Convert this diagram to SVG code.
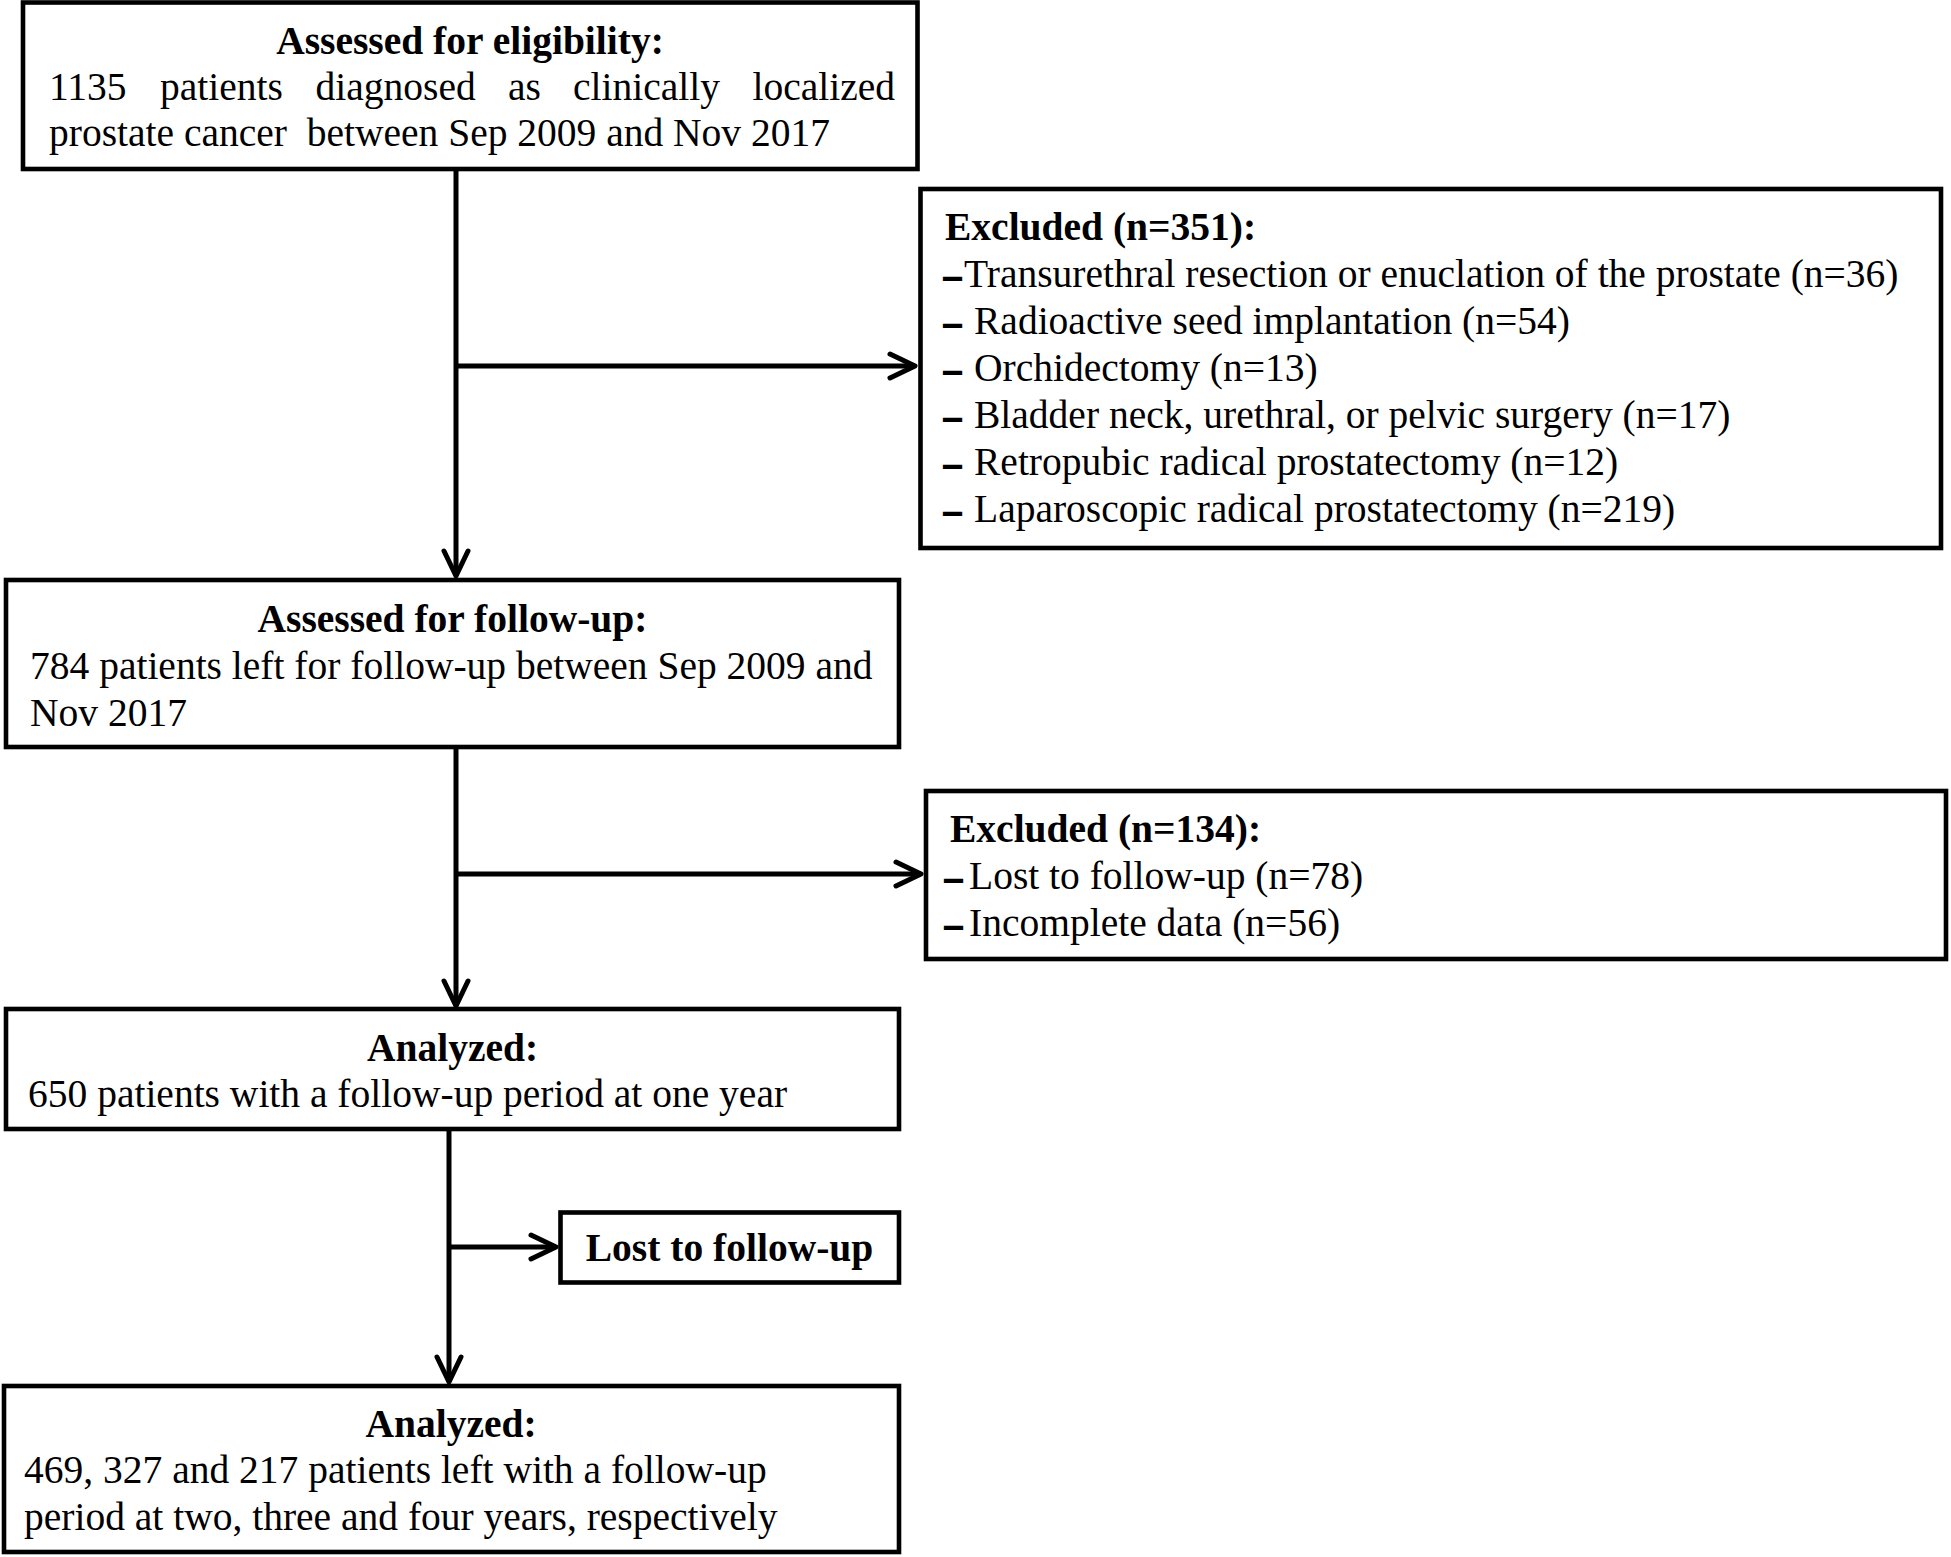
<svg xmlns="http://www.w3.org/2000/svg" width="1951" height="1557" viewBox="0 0 1951 1557">
<style>
  .box { fill: #fff; stroke: #000; stroke-width: 4.6; }
  .conn { fill: none; stroke: #000; stroke-width: 5; }
  text { font-family: "Liberation Serif", "Times New Roman", serif; font-size: 39.5px; fill: #000; }
  .bold { font-weight: bold; }
  .mid { text-anchor: middle; }
  .dash { font-weight: bold; font-size: 34px; stroke: #000; stroke-width: 1.8; }
</style>
<defs>
  <marker id="arrow" markerUnits="userSpaceOnUse" viewBox="-30 -16 36 32" refX="0" refY="0" markerWidth="36" markerHeight="32" orient="auto" overflow="visible">
    <path d="M-25,-12 L0,0 L-25,12" fill="none" stroke="#000" stroke-width="5" stroke-linecap="round" stroke-linejoin="round"/>
  </marker>
</defs>
<rect width="1951" height="1557" fill="#fff"/>

<g id="connectors">
  <path class="conn" d="M456,169 V576" marker-end="url(#arrow)"/>
  <path class="conn" d="M456,366 H915" marker-end="url(#arrow)"/>
  <path class="conn" d="M456,747 V1006" marker-end="url(#arrow)"/>
  <path class="conn" d="M456,874 H921" marker-end="url(#arrow)"/>
  <path class="conn" d="M449,1129 V1382" marker-end="url(#arrow)"/>
  <path class="conn" d="M449,1247 H556" marker-end="url(#arrow)"/>
</g>

<g id="node-eligibility">
  <rect class="box" x="23" y="2.5" width="894.5" height="166.5"/>
  <text class="bold mid" x="470" y="54">Assessed for eligibility:</text>
  <text y="100"><tspan x="49">1135</tspan><tspan x="160">patients</tspan><tspan x="315.5">diagnosed</tspan><tspan x="508">as</tspan><tspan x="573">clinically</tspan><tspan x="752.5">localized</tspan></text>
  <text x="49" y="146" xml:space="preserve">prostate cancer  between Sep 2009 and Nov 2017</text>
</g>

<g id="node-excluded-351">
  <rect class="box" x="920.5" y="189" width="1020.5" height="359"/>
  <text class="bold" x="945" y="240">Excluded (n=351):</text>
  <text class="dash" x="944" y="287">–</text>
  <text x="964" y="287">Transurethral resection or enuclation of the prostate (n=36)</text>
  <text class="dash" x="944" y="334">–</text>
  <text x="974" y="334">Radioactive seed implantation (n=54)</text>
  <text class="dash" x="944" y="381">–</text>
  <text x="974" y="381">Orchidectomy (n=13)</text>
  <text class="dash" x="944" y="428">–</text>
  <text x="974" y="428">Bladder neck, urethral, or pelvic surgery (n=17)</text>
  <text class="dash" x="944" y="475">–</text>
  <text x="974" y="475">Retropubic radical prostatectomy (n=12)</text>
  <text class="dash" x="944" y="522">–</text>
  <text x="974" y="522">Laparoscopic radical prostatectomy (n=219)</text>
</g>

<g id="node-followup">
  <rect class="box" x="6" y="580" width="893" height="167"/>
  <text class="bold mid" x="452.5" y="632">Assessed for follow-up:</text>
  <text x="30" y="679">784 patients left for follow-up between Sep 2009 and</text>
  <text x="30" y="726">Nov 2017</text>
</g>

<g id="node-excluded-134">
  <rect class="box" x="926" y="791" width="1020" height="168"/>
  <text class="bold" x="950" y="842">Excluded (n=134):</text>
  <text class="dash" x="945" y="889">–</text>
  <text x="969" y="889">Lost to follow-up (n=78)</text>
  <text class="dash" x="945" y="936">–</text>
  <text x="969" y="936">Incomplete data (n=56)</text>
</g>

<g id="node-analyzed-1">
  <rect class="box" x="6" y="1009" width="893" height="120"/>
  <text class="bold mid" x="452.5" y="1061">Analyzed:</text>
  <text x="28" y="1107">650 patients with a follow-up period at one year</text>
</g>

<g id="node-lost">
  <rect class="box" x="560.5" y="1212.5" width="338.5" height="70"/>
  <text class="bold mid" x="729.5" y="1261">Lost to follow-up</text>
</g>

<g id="node-analyzed-2">
  <rect class="box" x="4" y="1386" width="895" height="166"/>
  <text class="bold mid" x="451" y="1437">Analyzed:</text>
  <text x="24" y="1483">469, 327 and 217 patients left with a follow-up</text>
  <text x="24" y="1530">period at two, three and four years, respectively</text>
</g>
</svg>
